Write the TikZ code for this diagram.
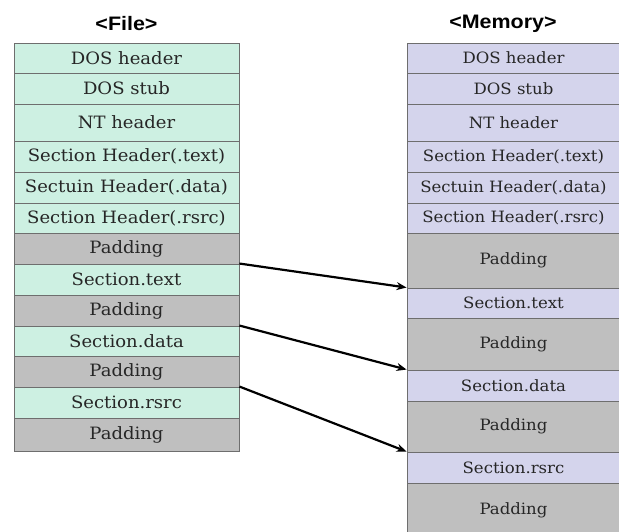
\documentclass[tikz,border=0pt]{standalone}
\usepackage{fontspec}
\usetikzlibrary{arrows.meta}
\newfontfamily\bodyfont{DejaVu Serif}[FakeStretch=1.06]
\newfontfamily\titlefont{Liberation Sans Bold}[FakeStretch=1.1]
\definecolor{mint}{RGB}{205,240,226}
\definecolor{lav}{RGB}{212,212,236}
\definecolor{padgray}{RGB}{191,191,191}
\definecolor{edge}{RGB}{110,110,110}
\tikzset{
  cell/.style={draw=edge, line width=0.9pt, rectangle, inner sep=0pt, text=black!85},
  fbase/.style={cell, minimum width=225pt, font=\bodyfont\fontsize{17}{17}\selectfont},
  mbase/.style={cell, minimum width=213pt, font=\bodyfont\fontsize{15.6}{16}\selectfont},
  fcell/.style={fbase, fill=mint},
  mcell/.style={mbase, fill=lav},
  fpad/.style={fbase, fill=padgray},
  mpad/.style={mbase, fill=padgray},
  ttl/.style={font=\titlefont\fontsize{19.5}{19.5}\selectfont, inner sep=0pt},
  mapar/.style={line width=2.2pt, -{Stealth[length=10pt,width=8pt]}}
}
\begin{document}
\begin{tikzpicture}[x=1pt, y=-1pt]
\useasboundingbox (0,0) rectangle (619,532);
\node[ttl] (tf) at (126.5,24) {<File>};
\node[ttl] (tm) at (503,24) {<Memory>};
% File column
\node[fcell, minimum height=30pt] (f1) at (126.5,58) {DOS header};
\node[fcell, minimum height=31pt] (f2) at (126.5,88.5) {DOS stub};
\node[fcell, minimum height=37pt] (f3) at (126.5,122.5) {NT header};
\node[fcell, minimum height=31pt] (f4) at (126.5,156.5) {Section Header(.text)};
\node[fcell, minimum height=31pt] (f5) at (126.5,187.5) {Sectuin Header(.data)};
\node[fcell, minimum height=30pt] (f6) at (126.5,218) {Section Header(.rsrc)};
\node[fpad, minimum height=31pt] (f7) at (126.5,248.5) {Padding};
\node[fcell, minimum height=31pt] (f8) at (126.5,279.5) {Section.text};
\node[fpad, minimum height=31pt] (f9) at (126.5,310.5) {Padding};
\node[fcell, minimum height=30pt] (f10) at (126.5,341) {Section.data};
\node[fpad, minimum height=31pt] (f11) at (126.5,371.5) {Padding};
\node[fcell, minimum height=31pt] (f12) at (126.5,402.5) {Section.rsrc};
\node[fpad, minimum height=33pt] (f13) at (126.5,434.5) {Padding};
% Memory column
\node[mcell, minimum height=30pt] (m1) at (513.5,58) {DOS header};
\node[mcell, minimum height=31pt] (m2) at (513.5,88.5) {DOS stub};
\node[mcell, minimum height=37pt] (m3) at (513.5,122.5) {NT header};
\node[mcell, minimum height=31pt] (m4) at (513.5,156.5) {Section Header(.text)};
\node[mcell, minimum height=31pt] (m5) at (513.5,187.5) {Sectuin Header(.data)};
\node[mcell, minimum height=30pt] (m6) at (513.5,218) {Section Header(.rsrc)};
\node[mpad, minimum height=55pt] (m7) at (513.5,260.5) {Padding};
\node[mcell, minimum height=30pt] (m8) at (513.5,303) {Section.text};
\node[mpad, minimum height=52pt] (m9) at (513.5,344) {Padding};
\node[mcell, minimum height=31pt] (m10) at (513.5,385.5) {Section.data};
\node[mpad, minimum height=51pt] (m11) at (513.5,426.5) {Padding};
\node[mcell, minimum height=31pt] (m12) at (513.5,467.5) {Section.rsrc};
\node[mpad, minimum height=54pt] (m13) at (513.5,510) {Padding};
% Arrows
\draw[mapar] (f8.north east) -- (m8.north west);
\draw[mapar] (f10.north east) -- (m10.north west);
\draw[mapar] (f12.north east) -- (m12.north west);
\end{tikzpicture}
\end{document}
